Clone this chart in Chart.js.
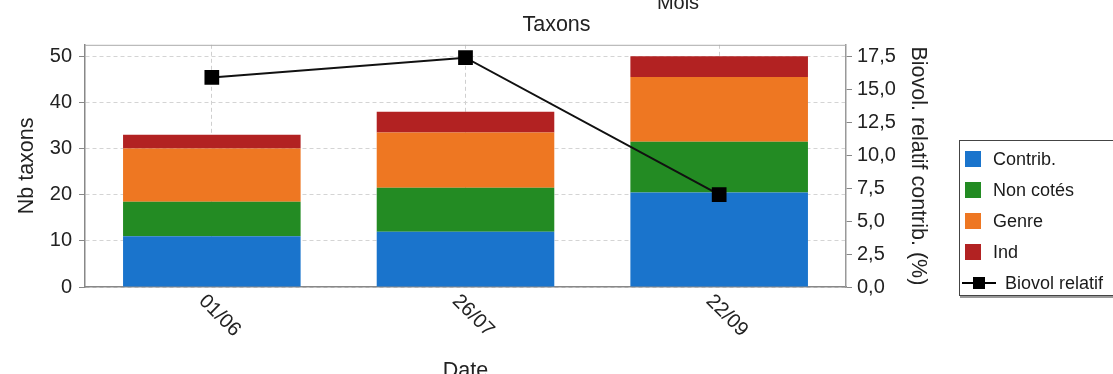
<!DOCTYPE html>
<html>
<head>
<meta charset="utf-8">
<script src="https://cdn.jsdelivr.net/npm/chart.js@4"></script>
<style>
  html, body { margin: 0; padding: 0; background: #fff; overflow: hidden; }
  body { width: 1113px; height: 374px; position: relative; font-family: "Liberation Sans", Arial, sans-serif; }
  #wrap { position: absolute; left: 0; top: -10px; width: 1113px; height: 394px; }
  #legend {
    position: absolute; left: 959px; top: 140px; width: 170px; height: 156px;
    border: 1px solid #444; box-shadow: 1px 2px 0 #999;
    font-size: 18px; color: #1a1a1a; box-sizing: border-box;
  }
  #legend .item { position: absolute; left: 0; height: 20px; line-height: 20px; }
  #legend .sw { position: absolute; left: 5px; top: 2px; width: 16px; height: 16px; }
  #legend .txt { position: absolute; left: 33px; top: 0; white-space: nowrap; }
</style>
</head>
<body>
<div id="wrap"><canvas id="chart"></canvas></div>
<div id="legend"></div>
<script>
const dates = ['01/06', '26/07', '22/09']
const contrib = [11, 12, 20.5]
const nonCotes = [7.5, 9.5, 11]
const genre = [11.5, 12, 14]
const ind = [3, 4.5, 4.5]
const biovolRelatif = [15.9, 17.4, 7.0]

const colors = ['#1a74cc', '#238b23', '#ee7722', '#b22222']
const seriesNames = ['Contrib.', 'Non cotés', 'Genre', 'Ind']
const lineName = 'Biovol relatif'

const fam = '"Liberation Sans", Arial, sans-serif'
const axisFont = { family: fam, size: 20 }
const titleFont = { family: fam, size: 21.5 }
const textColor = '#222'

// "Mois" label on top, rotated date labels and top border of the plot
const extras = {
    id: 'extras',
    afterDraw(chart) {
        const ctx = chart.ctx
        const area = chart.chartArea
        const xs = chart.scales.x
        ctx.save()
        ctx.strokeStyle = '#aaa'
        ctx.lineWidth = 1
        ctx.beginPath()
        ctx.moveTo(area.left, area.top + 0.5)
        ctx.lineTo(area.right, area.top + 0.5)
        ctx.stroke()

        ctx.fillStyle = textColor
        ctx.font = '20px ' + fam
        ctx.textAlign = 'center'
        ctx.textBaseline = 'alphabetic'
        ctx.fillText('Mois', 678, 19)

        ctx.textAlign = 'left'
        ctx.textBaseline = 'middle'
        dates.forEach((d, i) => {
            ctx.save()
            ctx.translate(xs.getPixelForValue(i) - 10, area.bottom + 11)
            ctx.rotate(Math.PI / 4)
            ctx.fillText(d, 0, 0)
            ctx.restore()
        })
        ctx.restore()
    }
}

const barSets = [contrib, nonCotes, genre, ind].map((vals, i) => ({
    label: seriesNames[i],
    data: vals,
    backgroundColor: colors[i],
    borderWidth: 0,
    stack: 'taxons',
    yAxisID: 'y',
    order: 1,
    barPercentage: 0.7,
    categoryPercentage: 1.0,
}))

new Chart(document.getElementById('chart'), {
    type: 'bar',
    data: {
        labels: dates,
        datasets: [
            ...barSets,
            {
                type: 'line',
                label: lineName,
                data: biovolRelatif,
                yAxisID: 'y1',
                order: 0,
                borderColor: '#111',
                borderWidth: 2,
                pointStyle: 'rect',
                pointRadius: 9,
                pointBackgroundColor: '#000',
                pointBorderColor: '#000',
                tension: 0,
            },
        ],
    },
    options: {
        responsive: true,
        maintainAspectRatio: false,
        animation: false,
        layout: { padding: 0 },
        plugins: {
            legend: { display: false },
            tooltip: { enabled: false },
            title: {
                display: true,
                text: 'Taxons',
                color: textColor,
                font: { ...titleFont, weight: 'normal' },
                padding: { top: 22, bottom: 7 },
            },
        },
        scales: {
            x: {
                stacked: true,
                grid: { offset: false, color: '#cfcfcf', drawTicks: false },
                border: { color: '#888', width: 1.5, dash: [4, 3] },
                ticks: { display: false },
                title: { display: true, text: 'Date', color: textColor, font: titleFont, padding: { top: 0, bottom: 0 } },
                afterFit(s) { s.height = 97 },
            },
            y: {
                position: 'left',
                stacked: true,
                min: 0,
                max: 52.5,
                ticks: { stepSize: 10, includeBounds: false, padding: 7, color: textColor, font: axisFont },
                grid: { color: '#d4d4d4', tickColor: '#888', tickLength: 6 },
                border: { color: '#888', width: 1.5, dash: [4, 3] },
                title: { display: true, text: 'Nb taxons', color: textColor, font: titleFont, padding: { top: 14, bottom: 0 } },
                afterFit(s) { s.width = 85 },
            },
            y1: {
                position: 'right',
                min: 0,
                max: 18.375,
                ticks: {
                    stepSize: 2.5, includeBounds: false, padding: 5, color: textColor, font: axisFont,
                    callback: v => v.toFixed(1).replace('.', ','),
                },
                grid: { drawOnChartArea: false, tickColor: '#888', tickLength: 6 },
                border: { color: '#999', width: 1.5 },
                title: { display: true, text: 'Biovol. relatif contrib. (%)', color: textColor, font: titleFont, padding: { top: 182, bottom: 0 } },
                afterFit(s) { s.width = 267 },
            },
        },
    },
    plugins: [extras],
})

// legend box at the right
const legend = document.getElementById('legend')
seriesNames.forEach((name, i) => {
    const it = document.createElement('div')
    it.className = 'item'
    it.style.top = (8 + i * 31) + 'px'
    it.innerHTML = '<span class="sw" style="background:' + colors[i] + '"></span><span class="txt">' + name + '</span>'
    legend.appendChild(it)
})
const li = document.createElement('div')
li.className = 'item'
li.style.top = (8 + 4 * 31) + 'px'
li.innerHTML = '<svg style="position:absolute;left:2px;top:2px" width="34" height="16">' +
    '<line x1="0" y1="8" x2="34" y2="8" stroke="#000" stroke-width="2"/>' +
    '<rect x="11" y="2" width="12" height="12" fill="#000"/></svg>' +
    '<span class="txt" style="left:45px">' + lineName + '</span>'
legend.appendChild(li)
</script>
</body>
</html>
